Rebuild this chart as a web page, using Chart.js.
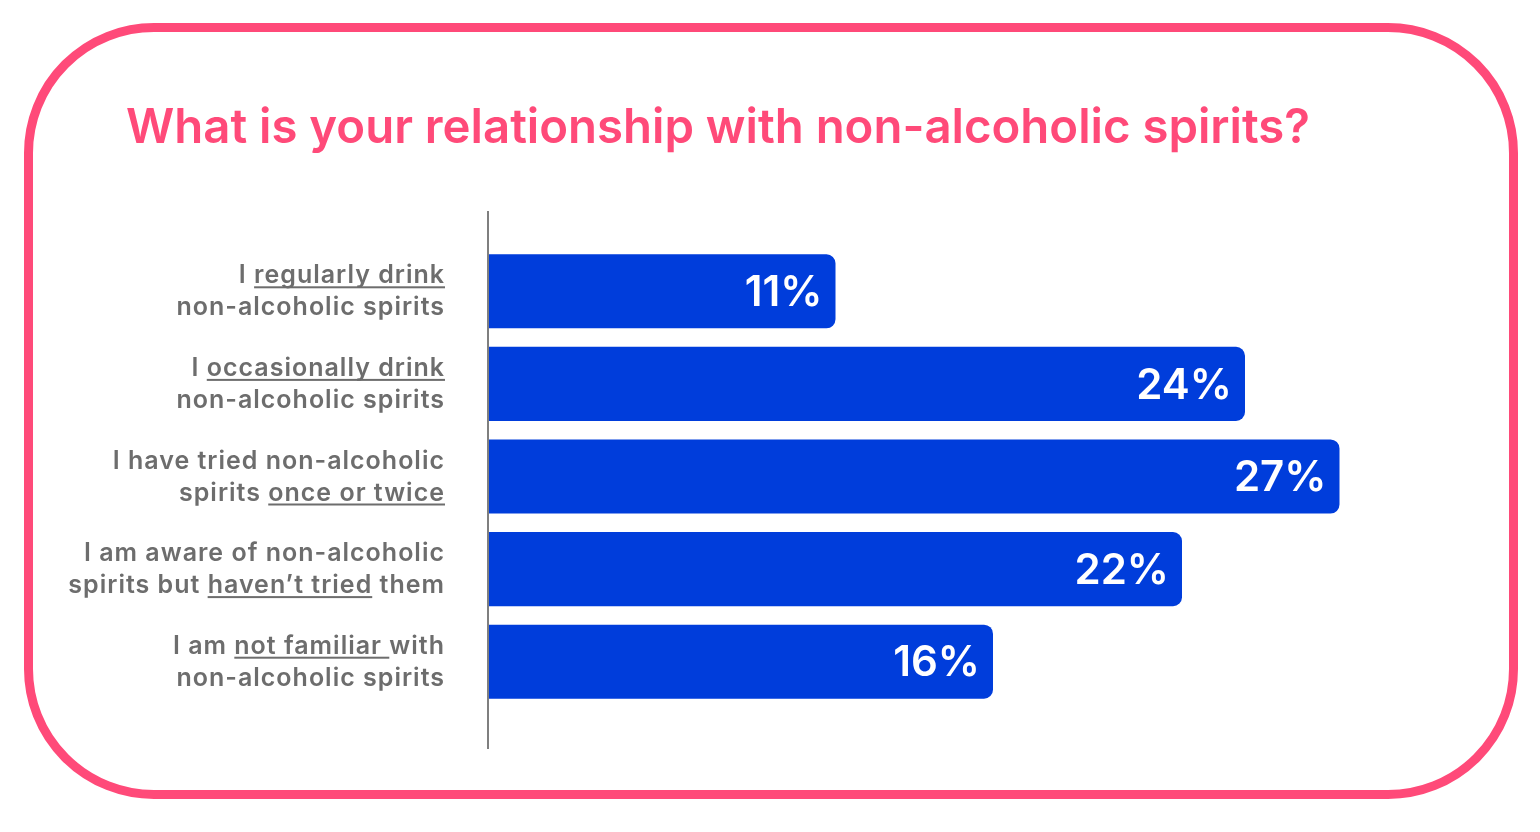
<!DOCTYPE html>
<html lang="en">
<head>
    <meta charset="UTF-8">
    <title>Non-alcoholic spirits</title>
    <script src="https://cdn.jsdelivr.net/npm/chart.js"></script>
    <style>
        body {
            margin: 0;
            background: #ffffff;
        }
        #frame {
            position: absolute;
            left: 24px;
            top: 23px;
            width: 1494px;
            height: 776px;
            box-sizing: border-box;
            border: 9px solid #ff4a79;
            border-radius: 130px;
        }
        #myChart {
            position: absolute;
            left: 0;
            top: 0;
        }
    </style>
</head>
<body>
    <div id="frame"></div>
    <canvas id="myChart" width="1540" height="832"></canvas>
    <script>
        const title = 'What is your relationship with non-alcoholic spirits?';

        // underscores mark the underlined part of each label line
        const categoryLines = [
            ['I _regularly drink_', 'non-alcoholic spirits'],
            ['I _occasionally drink_', 'non-alcoholic spirits'],
            ['I have tried non-alcoholic', 'spirits _once or twice_'],
            ['I am aware of non-alcoholic', 'spirits but _haven\u2019t tried_ them'],
            ['I am _not familiar _with', 'non-alcoholic spirits']
        ];
        const shares = [11, 24, 27, 22, 16];
        const valueLabels = ['11%', '24%', '27%', '22%', '16%'];

        const PINK = '#ff4a79';
        const BLUE = '#003ddb';
        const GREY = '#6d6d6d';

        function drawLine(ctx, text, rightX, y) {
            const parts = text.split('_');
            const plain = parts.join('');
            let x = rightX - ctx.measureText(plain).width;
            parts.forEach((part, i) => {
                const w = ctx.measureText(part).width;
                ctx.fillText(part, x, y);
                if (i % 2 === 1) {
                    ctx.fillRect(x, y + 3, w, 2);
                }
                x += w;
            });
        }

        const decorations = {
            id: 'decorations',
            afterDraw(chart) {
                const ctx = chart.ctx;
                const area = chart.chartArea;
                const yScale = chart.scales.y;
                ctx.save();

                // title, fitted to the reference width
                ctx.font = '600 48px Inter';
                ctx.fillStyle = PINK;
                ctx.textBaseline = 'alphabetic';
                ctx.textAlign = 'left';
                const tw = ctx.measureText(title).width;
                const target = 1184;
                ctx.translate(126, 143);
                ctx.scale(Math.min(1, target / tw), 1);
                ctx.fillText(title, 0, 0);
                ctx.setTransform(1, 0, 0, 1, 0, 0);

                // vertical axis line
                ctx.fillStyle = '#7f7f7f';
                ctx.fillRect(area.left - 2, 211, 2, 538);

                // category labels
                ctx.font = '600 25px Inter';
                ctx.letterSpacing = '1px';
                ctx.fillStyle = GREY;
                categoryLines.forEach((lines, i) => {
                    const cy = yScale.getPixelForValue(i);
                    drawLine(ctx, lines[0], area.left - 44, cy - 8);
                    drawLine(ctx, lines[1], area.left - 44, cy + 24);
                });
                ctx.letterSpacing = '0px';

                // value labels inside the bars
                ctx.font = '600 42px Inter';
                ctx.fillStyle = '#ffffff';
                ctx.textAlign = 'right';
                ctx.textBaseline = 'middle';
                chart.getDatasetMeta(0).data.forEach((bar, i) => {
                    ctx.fillText(valueLabels[i], bar.x - 13, bar.y + 2);
                });
                ctx.restore();
            }
        };

        const ctx = document.getElementById('myChart').getContext('2d');
        const chart = new Chart(ctx, {
            type: 'bar',
            data: {
                labels: categoryLines.map(l => l.join(' ').replace(/_/g, '')),
                datasets: [{
                    data: shares,
                    backgroundColor: BLUE,
                    borderRadius: 9,
                    borderSkipped: 'start',
                    barPercentage: 0.8,
                    categoryPercentage: 1.0
                }]
            },
            options: {
                indexAxis: 'y',
                responsive: false,
                animation: false,
                layout: {
                    padding: { left: 489, right: 106, top: 245, bottom: 124 }
                },
                plugins: {
                    legend: { display: false },
                    tooltip: { enabled: false }
                },
                scales: {
                    x: { display: false, min: 0, max: 30 },
                    y: { display: false }
                }
            },
            plugins: [decorations]
        });
    </script>
</body>
</html>
